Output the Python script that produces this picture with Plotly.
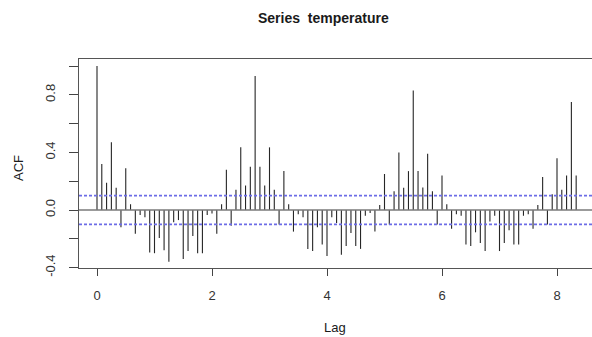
import plotly.graph_objects as go

# ACF values by lag index (lag = index / 12)
acf_values = [
    1.00, 0.32, 0.19, 0.47, 0.155, -0.12, 0.29, 0.04, -0.165, -0.035,
    -0.05, -0.295, -0.30, -0.195, -0.28, -0.36, -0.085, -0.07, -0.34, -0.285,
    -0.18, -0.30, -0.30, -0.035, -0.025, -0.165, 0.04, 0.28, -0.11, 0.14,
    0.435, 0.17, 0.30, 0.93, 0.30, 0.17, 0.435, 0.14, -0.10, 0.27,
    0.04, -0.15, -0.03, -0.05, -0.27, -0.285, -0.12, -0.24, -0.32, -0.05,
    -0.09, -0.31, -0.25, -0.16, -0.25, -0.27, -0.04, -0.02, -0.15, 0.035,
    0.25, -0.10, 0.13, 0.40, 0.155, 0.27, 0.83, 0.27, 0.157, 0.39,
    0.13, -0.10, 0.24, 0.04, -0.13, -0.03, -0.04, -0.24, -0.25, -0.155,
    -0.23, -0.285, -0.08, -0.04, -0.285, -0.23, -0.14, -0.24, -0.24, -0.04,
    -0.03, -0.13, 0.035, 0.23, -0.10, 0.11, 0.36, 0.14, 0.24, 0.75,
    0.24,
]
lag_frequency = 12
conf_limit = 0.1
x_tick_values = [0, 2, 4, 6, 8]
y_tick_values = [-0.4, -0.2, 0.0, 0.2, 0.4, 0.6, 0.8, 1.0]
y_tick_labels = ["-0.4", "", "0.0", "", "0.4", "", "0.8", ""]
title_text = "Series  temperature"
x_label = "Lag"
y_label = "ACF"

lags = [i / lag_frequency for i in range(len(acf_values))]
xs, ys = [], []
for lg, v in zip(lags, acf_values):
    xs += [lg, lg, None]
    ys += [0, v, None]

W, H = 592, 337
ML, MR, MT, MB = 79, 0, 59, 69
FONT = "Liberation Sans, Arial, sans-serif"
fig = go.Figure()
fig.add_trace(go.Scatter(x=xs, y=ys, mode="lines",
                         line=dict(color="#262626", width=1.1),
                         hoverinfo="skip", showlegend=False))

fig.add_shape(type="line", xref="paper", x0=0, x1=1, yref="y", y0=0, y1=0,
              line=dict(color="#7a7a7a", width=1.6))
for s in (conf_limit, -conf_limit):
    fig.add_shape(type="line", xref="paper", x0=0, x1=1, yref="y", y0=s, y1=s,
                  line=dict(color="#6c6ce6", width=1.8, dash="3px,2px"))

pw, ph = W - ML - MR, H - MT - MB


def px2paper(px, py):
    return (px - ML) / pw, (H - MB - py) / ph


anns = []
for text, px, py, size, angle in [
    ("<b>" + title_text + "</b>", 323, 18, 14, 0),
    (x_label, 335, 327, 13, 0),
    (y_label, 18, 168, 13, -90),
]:
    ax, ay = px2paper(px, py)
    anns.append(dict(text=text, x=ax, y=ay, xref="paper", yref="paper",
                     xanchor="center", yanchor="middle", showarrow=False,
                     textangle=angle, font=dict(size=size, color="#1a1a1a")))

fig.update_layout(
    width=W, height=H,
    margin=dict(l=ML, r=MR, t=MT, b=MB),
    paper_bgcolor="white", plot_bgcolor="white",
    font=dict(family=FONT, size=13, color="#222"),
    annotations=anns,
)

fig.update_xaxes(range=[-18 / 57.5, 495 / 57.5], tickvals=x_tick_values,
                 ticktext=[str(v) for v in x_tick_values],
                 showgrid=False, zeroline=False, showline=True, mirror=True,
                 linecolor="#555", linewidth=1.3, ticks="outside", ticklen=7,
                 tickcolor="#444", tickwidth=1.3, ticklabelstandoff=8,
                 tickfont=dict(size=13, color="#333"))
fig.update_yaxes(range=[-58 / 144, 151 / 144], tickvals=y_tick_values,
                 ticktext=y_tick_labels, tickangle=-90,
                 showgrid=False, zeroline=False, showline=True, mirror=False,
                 linecolor="#555", linewidth=1.3, ticks="outside", ticklen=9,
                 tickcolor="#444", tickwidth=1.3, ticklabelstandoff=9,
                 tickfont=dict(size=13, color="#333"))

fig.write_html("out.html", config={"displayModeBar": False},
               post_script="document.body.style.margin='0';document.body.style.overflow='hidden';")
